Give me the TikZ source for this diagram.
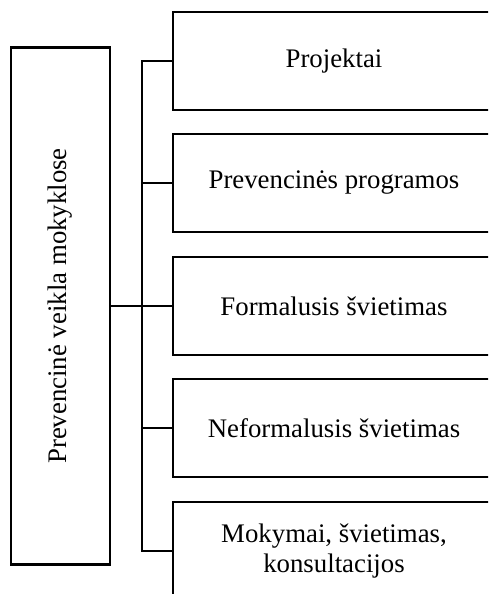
\documentclass[tikz,border=0pt]{standalone}
\usepackage{fontspec}
\setmainfont{Liberation Serif}
\begin{document}
\begin{tikzpicture}[x=1pt,y=-1pt,
  box/.style={draw=black,line width=2.8pt,minimum width=322pt,minimum height=98pt,inner sep=0pt,font=\fontsize{26.8}{30}\selectfont,align=center},
  mainbox/.style={draw=black,line width=2.8pt,minimum width=517pt,minimum height=99pt,inner sep=0pt,font=\fontsize{26.8}{30}\selectfont,rotate=90},
  link/.style={line width=2.8pt}]
\useasboundingbox (0,0) rectangle (488,594);
\clip (0,0) rectangle (488,594);
\node[mainbox] (main) at (60.5,306) {Prevencinė veikla mokyklose};
\node[box] (b1) at (334,61) {Projektai};
\node[box] (b2) at (334,183) {Prevencinės programos};
\node[box] (b3) at (334,306) {Formalusis švietimas};
\node[box] (b4) at (334,428) {Neformalusis švietimas};
\node[box] (b5) at (334,551) {Mokymai, švietimas,\\konsultacijos};
\coordinate (t1) at (142,61);
\coordinate (t5) at (142,551);
\draw[link] (b1.west) -- (t1) -- (t5) -- (b5.west);
\draw[link] (b2.west) -- (b2.west -| t1);
\draw[link] (b4.west) -- (b4.west -| t1);
\draw[link] (main.south) -- (b3.west);
\end{tikzpicture}
\end{document}
